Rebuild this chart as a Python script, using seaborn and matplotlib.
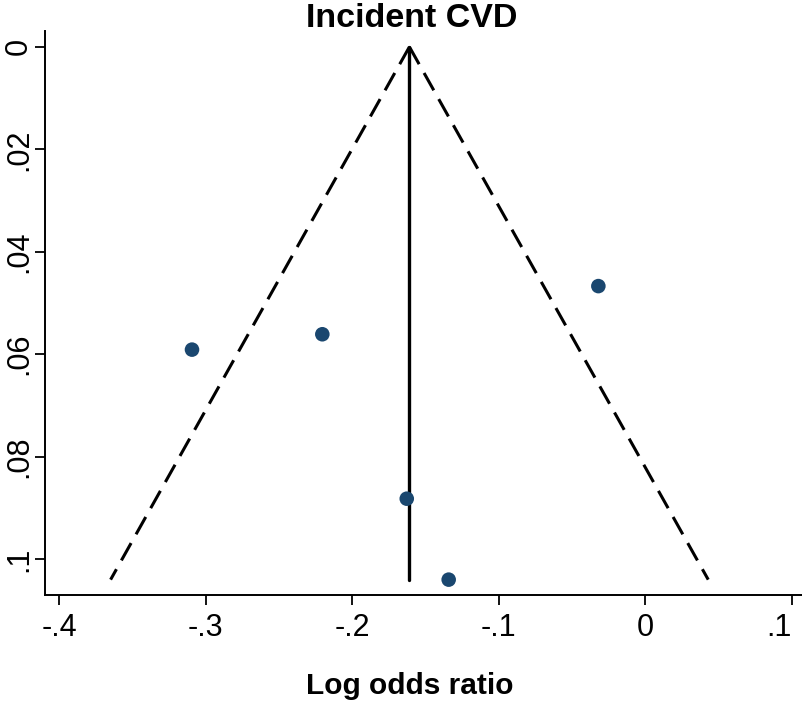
import numpy as np
import pandas as pd
import matplotlib
matplotlib.use("Agg")
import matplotlib.pyplot as plt
import seaborn as sns

# Study estimates: log odds ratio and its standard error
log_or = [-0.3093, -0.2204, -0.0321, -0.1628, -0.1342]
std_err = [0.0591, 0.0561, 0.0467, 0.0882, 0.1040]

x_ticks = [-0.4, -0.3, -0.2, -0.1, 0.0, 0.1]
x_tick_labels = ["-.4", "-.3", "-.2", "-.1", "0", ".1"]
y_ticks = [0.0, 0.02, 0.04, 0.06, 0.08, 0.1]
y_tick_labels = ["0", ".02", ".04", ".06", ".08", ".1"]

df = pd.DataFrame({"log_or": log_or, "se": std_err})

# Fixed-effect pooled estimate and pseudo 95% confidence limits
w = 1.0 / df["se"] ** 2
theta = float((w * df["log_or"]).sum() / w.sum())
se_max = float(df["se"].max())
se_grid = np.array([0.0, se_max])

sns.set_theme(style="white")
plt.rcParams["font.family"] = ["Liberation Sans", "DejaVu Sans"]
plt.rcParams["text.color"] = "black"
plt.rcParams["axes.labelcolor"] = "black"

fig = plt.figure(figsize=(8.03, 7.01), dpi=100)
ax = fig.add_axes([0.056, 0.1512, 0.944, 0.8046])

navy = "#1a476f"

ax.plot(theta - 1.96 * se_grid, se_grid, color="black", lw=2.2,
        ls=(0, (6.5, 3.3)), zorder=2)
ax.plot(theta + 1.96 * se_grid, se_grid, color="black", lw=2.2,
        ls=(0, (6.5, 3.3)), zorder=2)
ax.plot([theta, theta], [0.0, se_max], color="black", lw=2.4, zorder=2)

sns.scatterplot(data=df, x="log_or", y="se", ax=ax, color=navy, s=110,
                edgecolor="none", zorder=3, legend=False)

ax.set_xlim(-0.4096, 0.1075)
ax.set_ylim(0.107, -0.0031)

ax.set_xticks(x_ticks)
ax.set_xticklabels(x_tick_labels, fontsize=22)
ax.get_xticklabels()[-1].set_horizontalalignment("right")
ax.set_yticks(y_ticks)
ax.set_yticklabels(y_tick_labels, fontsize=22, rotation=90, va="center")

for side in ["top", "right"]:
    ax.spines[side].set_visible(False)
for side in ["left", "bottom"]:
    ax.spines[side].set_color("black")
    ax.spines[side].set_linewidth(1.4)

ax.tick_params(axis="both", which="major", direction="out", length=7,
               width=1.3, color="black", labelcolor="black",
               left=True, bottom=True)
ax.tick_params(axis="x", pad=6)
ax.tick_params(axis="y", pad=1)

ax.set_ylabel("")
ax.set_xlabel("")
fig.text(410 / 803, 1 - 694 / 701, "Log odds ratio", fontsize=21.5,
         fontweight="bold", ha="center", va="baseline", color="black")
fig.text(412 / 803, 1 - 27 / 701, "Incident CVD", fontsize=24.5,
         fontweight="bold", ha="center", va="baseline", color="black")

fig.savefig("out.png", dpi=100)
